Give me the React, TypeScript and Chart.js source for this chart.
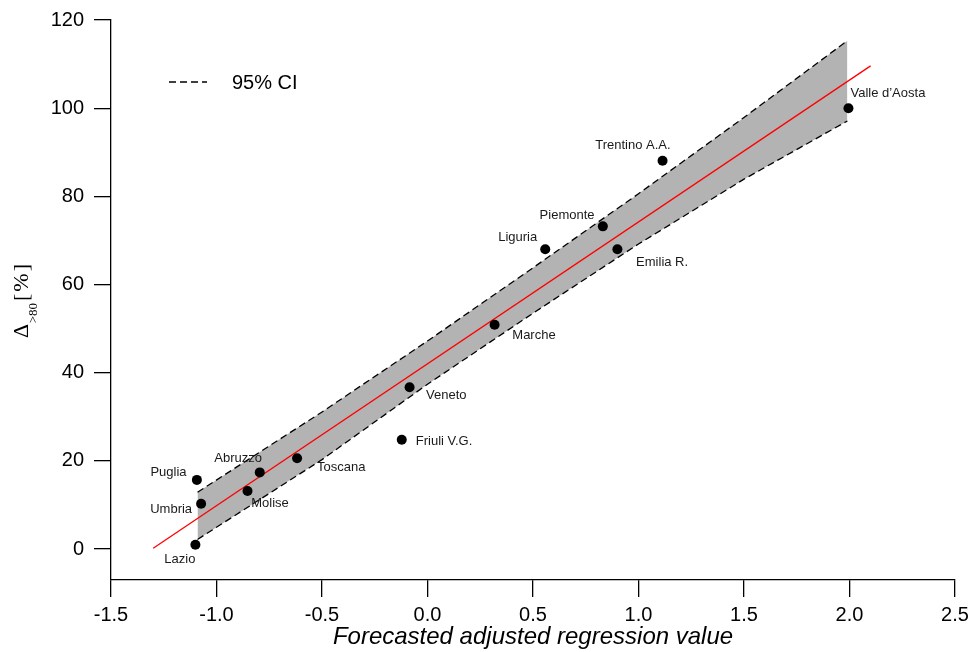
import React, { useEffect, useRef } from "react";
import { Chart, registerables } from "chart.js";

Chart.register(...registerables);

// ---- data ----
const regions = [
  "Lazio", "Umbria", "Puglia", "Molise", "Abruzzo", "Toscana", "Friuli V.G.",
  "Veneto", "Marche", "Liguria", "Piemonte", "Emilia R.", "Trentino A.A.", "Valle d\u2019Aosta",
];
const forecastX = [-1.1, -1.073, -1.093, -0.853, -0.795, -0.618, -0.122, -0.085, 0.318, 0.558, 0.831, 0.9, 1.114, 1.995];
const deltaY = [1.0, 10.3, 15.7, 13.2, 17.4, 20.6, 24.8, 36.7, 50.9, 68.0, 73.2, 68.0, 88.1, 100.0];

const fitX = [-1.3, 2.1];
const fitY = [0.2, 109.6];

const ciX = [-1.09, -0.5, 0, 0.5, 1.0, 1.5, 1.99];
const ciUpper = [12.9, 31.1, 47.2, 63.8, 80.6, 97.9, 115.3];
const ciLower = [2.2, 20.3, 37.4, 53.5, 69.2, 83.9, 97.1];

const xTicks = [-1.5, -1.0, -0.5, 0.0, 0.5, 1.0, 1.5, 2.0, 2.5];
const yTicks = [0, 20, 40, 60, 80, 100, 120];

// label placement (style): align, dx, dy in px relative to point
const labelPlacement: Record<string, [CanvasTextAlign, number, number]> = {
  "Lazio": ["center", -15.5, 15],
  "Umbria": ["right", -9, 5.6],
  "Puglia": ["right", -10.3, -7],
  "Molise": ["left", 3.7, 12.6],
  "Abruzzo": ["center", -21.6, -14],
  "Toscana": ["left", 20, 9],
  "Friuli V.G.": ["left", 14, 2],
  "Veneto": ["left", 16.5, 8.5],
  "Marche": ["left", 17.7, 11],
  "Liguria": ["right", -8, -11.6],
  "Piemonte": ["right", -8.3, -10.7],
  "Emilia R.": ["left", 18.7, 12.7],
  "Trentino A.A.": ["right", 8, -15],
  "Valle d\u2019Aosta": ["left", 2, -14.7],
};

const SANS = "'Liberation Sans', Arial, Helvetica, sans-serif";
const SERIF = "'Liberation Serif', 'Times New Roman', serif";

const pointLabelsPlugin = {
  id: "pointLabels",
  afterDatasetsDraw(chart: any) {
    const { ctx, scales } = chart;
    ctx.save();
    ctx.font = `13px ${SANS}`;
    ctx.fillStyle = "#1a1a1a";
    ctx.textBaseline = "middle";
    regions.forEach((name, i) => {
      const px = scales.x.getPixelForValue(forecastX[i]);
      const py = scales.y.getPixelForValue(deltaY[i]);
      const [align, dx, dy] = labelPlacement[name];
      ctx.textAlign = align;
      ctx.fillText(name, px + dx, py + dy);
    });
    ctx.restore();
  },
};

const decorPlugin = {
  id: "decor",
  afterDraw(chart: any) {
    const { ctx, chartArea } = chart;
    ctx.save();
    // legend
    const lx = chartArea.left + 58;
    const ly = chartArea.top + 62;
    ctx.strokeStyle = "#000";
    ctx.lineWidth = 1.3;
    ctx.setLineDash([7, 4]);
    ctx.beginPath();
    ctx.moveTo(lx, ly);
    ctx.lineTo(lx + 38, ly);
    ctx.stroke();
    ctx.setLineDash([]);
    ctx.fillStyle = "#000";
    ctx.font = `20px ${SANS}`;
    ctx.textAlign = "left";
    ctx.textBaseline = "middle";
    ctx.fillText("95% CI", lx + 63, ly + 1);

    // y axis title: Δ_{>80}[%]
    ctx.translate(28, 338);
    ctx.rotate(-Math.PI / 2);
    ctx.textBaseline = "alphabetic";
    ctx.font = `22px ${SERIF}`;
    ctx.fillText("\u0394", 0, 0);
    let x = ctx.measureText("\u0394").width + 0.5;
    ctx.font = `13px ${SERIF}`;
    ctx.fillText(">80", x, 9);
    x += ctx.measureText(">80").width + 2;
    ctx.font = `22px ${SERIF}`;
    for (const ch of ["[", "%", "]"]) {
      ctx.fillText(ch, x, 0);
      x += ctx.measureText(ch).width + 2;
    }
    ctx.restore();
  },
};

export default function App() {
  const ref = useRef<HTMLCanvasElement | null>(null);

  useEffect(() => {
    if (!ref.current) return;
    const pts = forecastX.map((x, i) => ({ x, y: deltaY[i] }));
    const fit = fitX.map((x, i) => ({ x, y: fitY[i] }));
    const up = ciX.map((x, i) => ({ x, y: ciUpper[i] }));
    const lo = ciX.map((x, i) => ({ x, y: ciLower[i] }));

    const chart = new Chart(ref.current, {
      type: "scatter",
      data: {
        datasets: [
          {
            label: "regions",
            data: pts,
            pointRadius: 5,
            pointHoverRadius: 5,
            backgroundColor: "#000",
            borderWidth: 0,
            showLine: false,
          },
          {
            label: "fit",
            data: fit,
            showLine: true,
            pointRadius: 0,
            borderColor: "#ff0000",
            borderWidth: 1.3,
            fill: false,
          },
          {
            label: "95% CI upper",
            data: up,
            showLine: true,
            pointRadius: 0,
            borderColor: "#000",
            borderWidth: 1.3,
            borderDash: [7, 4],
            backgroundColor: "#b3b3b3",
            fill: "+1",
          },
          {
            label: "95% CI lower",
            data: lo,
            showLine: true,
            pointRadius: 0,
            borderColor: "#000",
            borderWidth: 1.3,
            borderDash: [7, 4],
            fill: false,
          },
        ],
      },
      options: {
        animation: false,
        responsive: false,
        devicePixelRatio: 1,
        layout: { padding: { top: 20, right: 18, left: 0, bottom: 0 } },
        plugins: {
          legend: { display: false },
          tooltip: { enabled: false },
          filler: { drawTime: "beforeDatasetsDraw" },
        } as any,
        scales: {
          x: {
            type: "linear",
            min: -1.5,
            max: 2.5,
            afterBuildTicks: (s: any) => {
              s.ticks = xTicks.map((v) => ({ value: v }));
            },
            afterFit: (s: any) => {
              s.height = 72;
              s.paddingLeft = 0;
              s.paddingRight = 0;
            },
            ticks: {
              font: { family: SANS, size: 20 },
              color: "#000",
              padding: 6,
              maxRotation: 0,
              callback: (v: any) => Number(v).toFixed(1),
            },
            grid: {
              display: true,
              drawOnChartArea: false,
              drawTicks: true,
              tickLength: 17,
              color: "#000",
              lineWidth: 1.3,
            },
            border: { display: true, color: "#000", width: 1.3 },
            title: {
              display: true,
              text: "Forecasted adjusted regression value",
              font: { family: SANS, size: 24, style: "italic" },
              color: "#000",
              padding: { top: 0, bottom: 0 },
            },
          },
          y: {
            type: "linear",
            min: -7,
            max: 120,
            afterBuildTicks: (s: any) => {
              s.ticks = yTicks.map((v) => ({ value: v }));
            },
            afterFit: (s: any) => {
              s.width = 111;
              s.paddingTop = 0;
              s.paddingBottom = 0;
            },
            ticks: {
              font: { family: SANS, size: 20 },
              color: "#000",
              padding: 10,
              callback: (v: any) => String(v),
            },
            grid: {
              display: true,
              drawOnChartArea: false,
              drawTicks: true,
              tickLength: 17,
              color: "#000",
              lineWidth: 1.3,
            },
            border: { display: true, color: "#000", width: 1.3 },
            title: { display: false },
          },
        },
      } as any,
      plugins: [pointLabelsPlugin, decorPlugin],
    });
    return () => chart.destroy();
  }, []);

  return (
    <div style={{ position: "fixed", left: 0, top: 0, width: 973, height: 652, background: "#fff" }}>
      <canvas ref={ref} width={973} height={652} style={{ width: 973, height: 652, display: "block" }} />
    </div>
  );
}
